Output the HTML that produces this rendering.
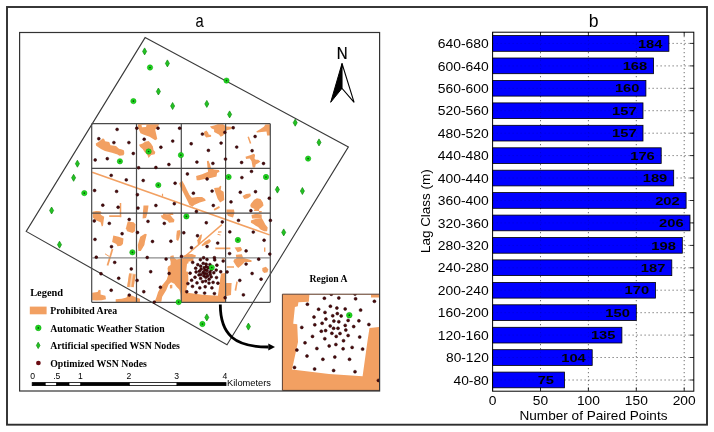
<!DOCTYPE html><html><head><meta charset="utf-8"><style>html,body{margin:0;padding:0;background:#fff;}svg{display:block;will-change:transform;}text{font-family:"Liberation Sans",sans-serif;}.sf{font-family:"Liberation Serif",serif;font-weight:bold;}</style></head><body>
<svg width="714" height="432" viewBox="0 0 714 432">
<rect width="714" height="432" fill="#fff"/>
<defs><clipPath id="mapclip"><rect x="19.6" y="32.5" width="360.4" height="358.5"/></clipPath><clipPath id="gridclip"><rect x="91.7" y="123.7" width="178.6" height="178.6"/></clipPath><clipPath id="cellclip"><rect x="181.3" y="257.8" width="44.3" height="44.5"/></clipPath><clipPath id="insclip"><rect x="282.4" y="294.2" width="97.2" height="96.2"/></clipPath></defs>
<g clip-path="url(#mapclip)">
<g clip-path="url(#gridclip)">
<polygon points="129.1,273.0 135.8,274.1 133.6,287.2 127.2,286.9" fill="#F7D2B0" />
<polygon points="95.8,143.5 99.0,141.5 101.5,139.5 103.0,138.2 104.5,139.5 105.0,141.3 109.2,142.0 110.5,145.2 116.0,146.0 119.0,148.7 122.0,149.6 124.0,150.6 124.3,153.5 123.5,155.3 119.5,155.7 117.5,154.5 112.0,152.8 105.0,151.0 101.0,149.0 98.0,147.0 96.0,145.5" fill="#F2A062" />
<polygon points="137.7,124.2 159.4,124.2 155.2,129.8 157.3,138.9 155.2,140.3 149.6,136.8 144.0,134.7 140.5,133.3 138.4,128.4" fill="#F2A062" />
<polygon points="139.0,144.7 142.6,143.5 145.0,141.7 148.6,141.1 151.0,143.5 152.9,146.5 153.5,150.1 155.3,151.9 154.7,154.3 151.1,154.9 148.6,157.9 147.4,154.9 145.0,152.5 142.6,148.9 140.2,147.1" fill="#F2A062" />
<polygon points="209.9,126.6 214.1,125.4 217.7,124.2 223.1,124.2 225.5,126.0 226.5,126.4 231.6,126.8 231.6,129.0 226.8,130.2 223.8,134.4 223.1,135.6 220.7,136.8 218.9,134.4 216.5,133.2 214.1,132.0 214.1,129.6 211.7,128.4" fill="#F2A062" />
<polygon points="203.9,132.0 206.3,130.6 208.1,132.6 208.7,134.4 211.1,135.0 211.1,136.8 206.3,137.4 204.5,135.6" fill="#F2A062" />
<polygon points="256.3,131.4 260.5,129.0 264.1,126.6 265.3,124.4 270.1,124.2 270.1,135.6 267.1,135.6 266.5,131.4 261.7,132.0 256.9,132.6" fill="#F2A062" />
<polygon points="245.5,156.7 250.9,154.9 253.9,153.7 255.1,154.9 254.5,158.5 255.7,159.7 258.1,159.7 260.5,161.5 258.1,163.3 255.7,164.5 255.1,167.5 252.7,167.5 251.5,160.9 249.7,158.5 246.1,159.1" fill="#F2A062" />
<polygon points="196.1,176.0 202.1,174.2 208.1,171.8 207.5,167.6 206.9,161.0 208.5,160.8 209.9,164.0 211.1,168.2 214.1,169.4 218.9,170.0 219.5,171.8 217.1,173.0 216.5,176.6 211.7,177.8 208.1,178.4 204.5,179.0 199.1,180.2 196.7,180.2" fill="#F2A062" />
<polygon points="179.2,183.3 182.2,180.8 184.6,185.1 187.0,189.9 189.4,194.7 191.8,197.7 197.3,197.1 202.1,197.1 205.1,198.9 205.7,200.7 199.7,202.5 194.2,204.9 192.4,206.7 189.4,204.9 187.0,200.1 184.6,195.3 182.2,190.5 180.4,186.9" fill="#F2A062" />
<polygon points="214.1,188.1 218.9,187.5 220.1,185.7 221.3,186.3 220.7,189.9 223.7,191.7 224.3,200.1 220.1,202.5 217.7,198.9 215.9,194.1 214.7,190.5" fill="#F2A062" />
<polygon points="242.5,195.9 246.1,194.1 250.3,193.5 250.9,195.9 247.9,198.3 244.3,198.9" fill="#F2A062" />
<polygon points="250.9,203.7 253.9,200.1 256.9,198.3 260.5,198.9 262.9,202.5 263.5,205.5 261.7,207.3 259.3,209.1 258.7,212.7 261.7,212.6 261.7,211.0 253.9,211.0 254.5,209.1 250.9,207.3 250.3,205.5" fill="#F2A062" />
<polygon points="143.5,205.5 148.5,205.5 147.5,213.0 146.0,218.0 142.6,218.6 143.0,212.0" fill="#F2A062" />
<polygon points="163.0,213.6 172.7,212.8 173.5,215.0 170.3,215.0 166.7,214.4 163.0,215.4" fill="#F2A062" />
<polygon points="92.8,211.4 98.8,211.4 101.2,215.0 104.2,216.8 103.6,221.0 103.0,225.8 101.8,226.4 100.6,222.2 97.6,221.0 95.2,219.8 92.8,217.4" fill="#F2A062" />
<polygon points="127.7,221.6 133.7,222.2 135.5,224.6 134.9,231.3 132.5,233.1 127.1,231.3 125.9,228.3" fill="#F2A062" />
<polygon points="113.3,235.5 118.7,236.7 123.5,238.5 122.9,243.9 121.1,245.7 117.5,246.3 116.3,243.9 112.1,242.1" fill="#F2A062" />
<polygon points="160.7,215.6 166.7,214.4 170.3,215.0 172.7,218.0 174.5,219.8 173.9,222.2 169.1,222.8 167.3,220.4 163.7,219.2 161.9,218.0" fill="#F2A062" />
<polygon points="140.2,236.7 145.0,233.7 146.8,234.3 145.0,241.5 144.4,245.1 140.8,251.1 138.4,251.1 137.8,245.1" fill="#F2A062" />
<polygon points="176.9,230.7 179.9,230.1 180.5,233.1 179.3,237.9 178.1,240.9 176.3,239.7 176.3,235.5" fill="#F2A062" />
<polygon points="197.3,240.3 200.3,234.9 202.1,234.3 201.5,237.9 199.7,243.9 197.9,244.5" fill="#F2A062" />
<polygon points="201.5,245.1 205.1,241.5 209.3,239.1 211.1,240.9 209.3,243.3 205.1,245.1 202.1,246.3" fill="#F2A062" />
<polygon points="182.8,256.0 187.0,254.2 192.0,254.0 196.0,255.5 195.0,258.0 190.0,257.8 185.0,258.5" fill="#F2A062" />
<polygon points="226.5,209.5 234.0,209.5 234.5,213.0 233.0,217.5 228.0,216.0 226.5,213.0" fill="#F2A062" />
<polygon points="250.9,220.4 254.5,219.2 258.1,218.6 261.7,218.0 263.5,221.0 265.3,224.6 267.7,227.6 267.1,231.3 264.1,231.3 260.5,229.5 258.1,227.1 255.7,225.8 253.3,224.0 250.9,222.8" fill="#F2A062" />
<polygon points="251.5,215.0 256.0,213.8 261.7,214.5 261.7,218.0 256.0,218.6 252.0,218.6" fill="#F2A062" />
<polygon points="234.6,247.5 240.7,246.9 241.9,249.3 241.3,251.1 237.6,252.3 236.4,250.5" fill="#F2A062" />
<polygon points="235.8,254.8 241.9,254.2 243.1,257.8 251.5,260.2 251.5,262.0 244.9,262.0 241.9,265.0 238.2,268.0 236.4,266.2 233.4,261.4 234.0,259.6 236.4,258.4" fill="#F2A062" />
<polygon points="262.3,268.0 265.9,266.8 268.3,269.2 267.5,272.3 264.1,272.9 262.3,271.1" fill="#F2A062" />
<polygon points="236.4,281.3 237.8,281.9 236.2,290.9 234.6,290.3" fill="#F2A062" />
<polygon points="225.6,283.1 231.6,283.1 231.0,295.1 225.6,296.3" fill="#F2A062" />
<polygon points="92.2,292.7 97.6,292.1 98.8,289.7 100.6,290.3 100.6,294.5 105.4,295.7 106.0,299.3 101.8,300.2 96.4,300.5 92.2,300.2" fill="#F2A062" />
<polygon points="115.7,299.3 121.7,298.7 126.5,297.5 127.7,295.1 132.5,295.7 136.1,297.5 140.0,298.7 140.0,302.3 115.7,302.3" fill="#F2A062" />
<polygon points="154.6,301.8 156.5,297.0 158.1,292.0 161.3,286.2 164.0,283.0 166.6,279.7 168.2,274.9 167.8,270.0 167.5,268.7 168.1,266.5 170.5,265.0 170.7,262.0 169.9,259.0 170.5,256.0 173.5,255.2 174.1,257.8 176.5,259.6 181.6,258.4 181.6,301.8 180.8,301.8 180.6,295.0 180.2,292.5 179.2,289.4 176.7,287.0 174.3,283.8 171.1,282.2 168.6,284.6 166.2,290.3 162.2,296.7 161.3,301.8" fill="#F2A062" />
<polygon points="169.9,285.0 172.3,284.8 172.3,288.2 169.9,288.4" fill="#F2A062" />
<polygon points="92.8,212.5 96.0,211.0 100.5,211.2 101.8,213.2 92.8,213.2" fill="#F2A062" />
<polygon points="141.5,125.0 146.5,124.8 146.0,127.1 142.0,127.3" fill="#fff" />
<line x1="92.2" y1="172.2" x2="269.5" y2="234.9" stroke="#F2A062" stroke-width="1.5"/>
<line x1="221.9" y1="224.6" x2="184.5" y2="256.8" stroke="#F2A062" stroke-width="1.4"/>
<line x1="248.2" y1="136.8" x2="250.6" y2="143.5" stroke="#F2A062" stroke-width="1.5"/>
<line x1="120.5" y1="203.1" x2="120.5" y2="217.3" stroke="#F2A062" stroke-width="1.5"/>
<line x1="109.2" y1="216.2" x2="121.2" y2="216.2" stroke="#F2A062" stroke-width="1.7"/>
<line x1="112.5" y1="249.0" x2="107.5" y2="265.5" stroke="#F2A062" stroke-width="1.8"/>
<line x1="105.0" y1="253.8" x2="109.0" y2="256.3" stroke="#F2A062" stroke-width="1.0"/>
<line x1="130.3" y1="273.6" x2="128.3" y2="287.0" stroke="#F2A062" stroke-width="2.4"/>
<line x1="134.4" y1="274.4" x2="132.5" y2="287.0" stroke="#F2A062" stroke-width="2.4"/>
<line x1="214.1" y1="209.9" x2="219.5" y2="206.9" stroke="#F2A062" stroke-width="1.8"/>
<line x1="162.5" y1="193.8" x2="162.5" y2="196.5" stroke="#F2A062" stroke-width="1.2"/>
<line x1="215.3" y1="248.4" x2="230.4" y2="248.4" stroke="#F2A062" stroke-width="1.8"/>
<line x1="264.7" y1="247.5" x2="264.7" y2="251.7" stroke="#F2A062" stroke-width="1.4"/>
<line x1="226.8" y1="267.1" x2="234.0" y2="267.1" stroke="#F2A062" stroke-width="1.5"/>
<line x1="218.0" y1="232.2" x2="221.5" y2="231.9" stroke="#F2A062" stroke-width="1.2"/>
<line x1="217.5" y1="234.3" x2="220.5" y2="235.0" stroke="#F2A062" stroke-width="1.0"/>
<g clip-path="url(#cellclip)">
<rect x="181.3" y="257.8" width="44.3" height="44.5" fill="#F2A062"/>
<polygon points="193.6,257.8 221.7,257.8 221.7,259.4 225.3,259.4 225.3,273.0 221.0,273.4 220.1,279.4 217.9,295.8 202.5,294.7 185.7,292.6 188.4,279.9 188.0,271.7 186.2,271.4 187.0,263.7 188.3,263.4 188.6,261.5 193.3,261.3" fill="#fff" />
</g>
</g>
<polygon points="145.1,37.6 348.4,146.9 227,344.7 26.2,231.4" fill="none" stroke="#3a3a3a" stroke-width="1.1"/>
<line x1="91.7" y1="123.7" x2="91.7" y2="302.3" stroke="#4a4a4a" stroke-width="1.2"/>
<line x1="136.5" y1="123.7" x2="136.5" y2="302.3" stroke="#4a4a4a" stroke-width="1.2"/>
<line x1="181.3" y1="123.7" x2="181.3" y2="302.3" stroke="#4a4a4a" stroke-width="1.2"/>
<line x1="225.6" y1="123.7" x2="225.6" y2="302.3" stroke="#4a4a4a" stroke-width="1.2"/>
<line x1="270.3" y1="123.7" x2="270.3" y2="302.3" stroke="#4a4a4a" stroke-width="1.2"/>
<line x1="91.7" y1="123.7" x2="270.3" y2="123.7" stroke="#4a4a4a" stroke-width="1.2"/>
<line x1="91.7" y1="168.3" x2="270.3" y2="168.3" stroke="#4a4a4a" stroke-width="1.2"/>
<line x1="91.7" y1="213.2" x2="270.3" y2="213.2" stroke="#4a4a4a" stroke-width="1.2"/>
<line x1="91.7" y1="257.8" x2="270.3" y2="257.8" stroke="#8c8c8c" stroke-width="1.2"/>
<line x1="91.7" y1="302.3" x2="270.3" y2="302.3" stroke="#4a4a4a" stroke-width="1.2"/>
<circle cx="117.1" cy="129.4" r="1.45" fill="#4A0A0C" stroke="#240406" stroke-width="0.5"/>
<circle cx="98.8" cy="138.7" r="1.45" fill="#4A0A0C" stroke="#240406" stroke-width="0.5"/>
<circle cx="113.9" cy="142.6" r="1.45" fill="#4A0A0C" stroke="#240406" stroke-width="0.5"/>
<circle cx="128.9" cy="142.6" r="1.45" fill="#4A0A0C" stroke="#240406" stroke-width="0.5"/>
<circle cx="133.3" cy="153.5" r="1.45" fill="#4A0A0C" stroke="#240406" stroke-width="0.5"/>
<circle cx="95.2" cy="160.0" r="1.45" fill="#4A0A0C" stroke="#240406" stroke-width="0.5"/>
<circle cx="107.3" cy="158.7" r="1.45" fill="#4A0A0C" stroke="#240406" stroke-width="0.5"/>
<circle cx="136.8" cy="128.2" r="1.45" fill="#4A0A0C" stroke="#240406" stroke-width="0.5"/>
<circle cx="138.6" cy="167.8" r="1.45" fill="#4A0A0C" stroke="#240406" stroke-width="0.5"/>
<circle cx="158.0" cy="128.2" r="1.45" fill="#4A0A0C" stroke="#240406" stroke-width="0.5"/>
<circle cx="179.6" cy="128.2" r="1.45" fill="#4A0A0C" stroke="#240406" stroke-width="0.5"/>
<circle cx="144.2" cy="139.3" r="1.45" fill="#4A0A0C" stroke="#240406" stroke-width="0.5"/>
<circle cx="172.7" cy="141.1" r="1.45" fill="#4A0A0C" stroke="#240406" stroke-width="0.5"/>
<circle cx="160.9" cy="147.3" r="1.45" fill="#4A0A0C" stroke="#240406" stroke-width="0.5"/>
<circle cx="168.9" cy="164.5" r="1.45" fill="#4A0A0C" stroke="#240406" stroke-width="0.5"/>
<circle cx="155.9" cy="167.5" r="1.45" fill="#4A0A0C" stroke="#240406" stroke-width="0.5"/>
<circle cx="202.4" cy="134.1" r="1.45" fill="#4A0A0C" stroke="#240406" stroke-width="0.5"/>
<circle cx="224.9" cy="132.4" r="1.45" fill="#4A0A0C" stroke="#240406" stroke-width="0.5"/>
<circle cx="191.2" cy="143.8" r="1.45" fill="#4A0A0C" stroke="#240406" stroke-width="0.5"/>
<circle cx="221.1" cy="143.1" r="1.45" fill="#4A0A0C" stroke="#240406" stroke-width="0.5"/>
<circle cx="208.4" cy="150.4" r="1.45" fill="#4A0A0C" stroke="#240406" stroke-width="0.5"/>
<circle cx="196.9" cy="162.1" r="1.45" fill="#4A0A0C" stroke="#240406" stroke-width="0.5"/>
<circle cx="212.9" cy="163.4" r="1.45" fill="#4A0A0C" stroke="#240406" stroke-width="0.5"/>
<circle cx="225.5" cy="159.1" r="1.45" fill="#4A0A0C" stroke="#240406" stroke-width="0.5"/>
<circle cx="233.2" cy="127.8" r="1.45" fill="#4A0A0C" stroke="#240406" stroke-width="0.5"/>
<circle cx="255.1" cy="136.5" r="1.45" fill="#4A0A0C" stroke="#240406" stroke-width="0.5"/>
<circle cx="236.7" cy="147.1" r="1.45" fill="#4A0A0C" stroke="#240406" stroke-width="0.5"/>
<circle cx="252.1" cy="150.7" r="1.45" fill="#4A0A0C" stroke="#240406" stroke-width="0.5"/>
<circle cx="241.6" cy="162.5" r="1.45" fill="#4A0A0C" stroke="#240406" stroke-width="0.5"/>
<circle cx="263.5" cy="163.5" r="1.45" fill="#4A0A0C" stroke="#240406" stroke-width="0.5"/>
<circle cx="251.5" cy="171.4" r="1.45" fill="#4A0A0C" stroke="#240406" stroke-width="0.5"/>
<circle cx="111.2" cy="175.4" r="1.45" fill="#4A0A0C" stroke="#240406" stroke-width="0.5"/>
<circle cx="126.3" cy="179.9" r="1.45" fill="#4A0A0C" stroke="#240406" stroke-width="0.5"/>
<circle cx="94.6" cy="190.5" r="1.45" fill="#4A0A0C" stroke="#240406" stroke-width="0.5"/>
<circle cx="116.6" cy="191.4" r="1.45" fill="#4A0A0C" stroke="#240406" stroke-width="0.5"/>
<circle cx="137.4" cy="194.7" r="1.45" fill="#4A0A0C" stroke="#240406" stroke-width="0.5"/>
<circle cx="102.8" cy="205.2" r="1.45" fill="#4A0A0C" stroke="#240406" stroke-width="0.5"/>
<circle cx="118.1" cy="207.3" r="1.45" fill="#4A0A0C" stroke="#240406" stroke-width="0.5"/>
<circle cx="138.0" cy="208.1" r="1.45" fill="#4A0A0C" stroke="#240406" stroke-width="0.5"/>
<circle cx="143.2" cy="180.5" r="1.45" fill="#4A0A0C" stroke="#240406" stroke-width="0.5"/>
<circle cx="175.1" cy="183.3" r="1.45" fill="#4A0A0C" stroke="#240406" stroke-width="0.5"/>
<circle cx="155.9" cy="205.5" r="1.45" fill="#4A0A0C" stroke="#240406" stroke-width="0.5"/>
<circle cx="174.3" cy="203.7" r="1.45" fill="#4A0A0C" stroke="#240406" stroke-width="0.5"/>
<circle cx="187.4" cy="174.0" r="1.45" fill="#4A0A0C" stroke="#240406" stroke-width="0.5"/>
<circle cx="207.1" cy="179.0" r="1.45" fill="#4A0A0C" stroke="#240406" stroke-width="0.5"/>
<circle cx="193.4" cy="193.2" r="1.45" fill="#4A0A0C" stroke="#240406" stroke-width="0.5"/>
<circle cx="212.1" cy="191.1" r="1.45" fill="#4A0A0C" stroke="#240406" stroke-width="0.5"/>
<circle cx="213.3" cy="205.5" r="1.45" fill="#4A0A0C" stroke="#240406" stroke-width="0.5"/>
<circle cx="196.4" cy="211.5" r="1.45" fill="#4A0A0C" stroke="#240406" stroke-width="0.5"/>
<circle cx="241.9" cy="177.6" r="1.45" fill="#4A0A0C" stroke="#240406" stroke-width="0.5"/>
<circle cx="240.3" cy="192.3" r="1.45" fill="#4A0A0C" stroke="#240406" stroke-width="0.5"/>
<circle cx="255.5" cy="191.7" r="1.45" fill="#4A0A0C" stroke="#240406" stroke-width="0.5"/>
<circle cx="269.3" cy="198.3" r="1.45" fill="#4A0A0C" stroke="#240406" stroke-width="0.5"/>
<circle cx="231.0" cy="201.9" r="1.45" fill="#4A0A0C" stroke="#240406" stroke-width="0.5"/>
<circle cx="250.9" cy="210.7" r="1.45" fill="#4A0A0C" stroke="#240406" stroke-width="0.5"/>
<circle cx="94.3" cy="221.0" r="1.45" fill="#4A0A0C" stroke="#240406" stroke-width="0.5"/>
<circle cx="109.3" cy="223.4" r="1.45" fill="#4A0A0C" stroke="#240406" stroke-width="0.5"/>
<circle cx="129.2" cy="219.5" r="1.45" fill="#4A0A0C" stroke="#240406" stroke-width="0.5"/>
<circle cx="122.1" cy="233.7" r="1.45" fill="#4A0A0C" stroke="#240406" stroke-width="0.5"/>
<circle cx="95.0" cy="239.4" r="1.45" fill="#4A0A0C" stroke="#240406" stroke-width="0.5"/>
<circle cx="111.5" cy="246.7" r="1.45" fill="#4A0A0C" stroke="#240406" stroke-width="0.5"/>
<circle cx="96.3" cy="257.2" r="1.45" fill="#4A0A0C" stroke="#240406" stroke-width="0.5"/>
<circle cx="137.5" cy="232.5" r="1.45" fill="#4A0A0C" stroke="#240406" stroke-width="0.5"/>
<circle cx="148.0" cy="221.4" r="1.45" fill="#4A0A0C" stroke="#240406" stroke-width="0.5"/>
<circle cx="164.3" cy="223.4" r="1.45" fill="#4A0A0C" stroke="#240406" stroke-width="0.5"/>
<circle cx="152.5" cy="241.5" r="1.45" fill="#4A0A0C" stroke="#240406" stroke-width="0.5"/>
<circle cx="170.9" cy="241.3" r="1.45" fill="#4A0A0C" stroke="#240406" stroke-width="0.5"/>
<circle cx="147.2" cy="257.5" r="1.45" fill="#4A0A0C" stroke="#240406" stroke-width="0.5"/>
<circle cx="166.1" cy="259.1" r="1.45" fill="#4A0A0C" stroke="#240406" stroke-width="0.5"/>
<circle cx="181.5" cy="256.4" r="1.45" fill="#4A0A0C" stroke="#240406" stroke-width="0.5"/>
<circle cx="206.3" cy="222.8" r="1.45" fill="#4A0A0C" stroke="#240406" stroke-width="0.5"/>
<circle cx="222.3" cy="222.0" r="1.45" fill="#4A0A0C" stroke="#240406" stroke-width="0.5"/>
<circle cx="183.8" cy="232.8" r="1.45" fill="#4A0A0C" stroke="#240406" stroke-width="0.5"/>
<circle cx="197.5" cy="235.8" r="1.45" fill="#4A0A0C" stroke="#240406" stroke-width="0.5"/>
<circle cx="217.7" cy="243.1" r="1.45" fill="#4A0A0C" stroke="#240406" stroke-width="0.5"/>
<circle cx="207.1" cy="246.5" r="1.45" fill="#4A0A0C" stroke="#240406" stroke-width="0.5"/>
<circle cx="191.5" cy="247.7" r="1.45" fill="#4A0A0C" stroke="#240406" stroke-width="0.5"/>
<circle cx="238.5" cy="220.4" r="1.45" fill="#4A0A0C" stroke="#240406" stroke-width="0.5"/>
<circle cx="270.4" cy="220.4" r="1.45" fill="#4A0A0C" stroke="#240406" stroke-width="0.5"/>
<circle cx="229.8" cy="231.9" r="1.45" fill="#4A0A0C" stroke="#240406" stroke-width="0.5"/>
<circle cx="253.3" cy="232.1" r="1.45" fill="#4A0A0C" stroke="#240406" stroke-width="0.5"/>
<circle cx="264.1" cy="240.3" r="1.45" fill="#4A0A0C" stroke="#240406" stroke-width="0.5"/>
<circle cx="246.1" cy="250.9" r="1.45" fill="#4A0A0C" stroke="#240406" stroke-width="0.5"/>
<circle cx="229.6" cy="253.6" r="1.45" fill="#4A0A0C" stroke="#240406" stroke-width="0.5"/>
<circle cx="269.8" cy="254.1" r="1.45" fill="#4A0A0C" stroke="#240406" stroke-width="0.5"/>
<circle cx="258.7" cy="259.2" r="1.45" fill="#4A0A0C" stroke="#240406" stroke-width="0.5"/>
<circle cx="114.7" cy="262.4" r="1.45" fill="#4A0A0C" stroke="#240406" stroke-width="0.5"/>
<circle cx="131.3" cy="269.0" r="1.45" fill="#4A0A0C" stroke="#240406" stroke-width="0.5"/>
<circle cx="101.0" cy="273.7" r="1.45" fill="#4A0A0C" stroke="#240406" stroke-width="0.5"/>
<circle cx="118.7" cy="278.3" r="1.45" fill="#4A0A0C" stroke="#240406" stroke-width="0.5"/>
<circle cx="137.1" cy="280.4" r="1.45" fill="#4A0A0C" stroke="#240406" stroke-width="0.5"/>
<circle cx="111.2" cy="290.3" r="1.45" fill="#4A0A0C" stroke="#240406" stroke-width="0.5"/>
<circle cx="129.3" cy="295.1" r="1.45" fill="#4A0A0C" stroke="#240406" stroke-width="0.5"/>
<circle cx="150.7" cy="271.7" r="1.45" fill="#4A0A0C" stroke="#240406" stroke-width="0.5"/>
<circle cx="169.1" cy="273.5" r="1.45" fill="#4A0A0C" stroke="#240406" stroke-width="0.5"/>
<circle cx="160.4" cy="287.3" r="1.45" fill="#4A0A0C" stroke="#240406" stroke-width="0.5"/>
<circle cx="143.8" cy="291.7" r="1.45" fill="#4A0A0C" stroke="#240406" stroke-width="0.5"/>
<circle cx="154.3" cy="302.1" r="1.45" fill="#4A0A0C" stroke="#240406" stroke-width="0.5"/>
<circle cx="246.1" cy="264.1" r="1.45" fill="#4A0A0C" stroke="#240406" stroke-width="0.5"/>
<circle cx="227.1" cy="272.0" r="1.45" fill="#4A0A0C" stroke="#240406" stroke-width="0.5"/>
<circle cx="252.1" cy="273.5" r="1.45" fill="#4A0A0C" stroke="#240406" stroke-width="0.5"/>
<circle cx="261.1" cy="279.2" r="1.45" fill="#4A0A0C" stroke="#240406" stroke-width="0.5"/>
<circle cx="239.8" cy="280.4" r="1.45" fill="#4A0A0C" stroke="#240406" stroke-width="0.5"/>
<circle cx="243.4" cy="294.9" r="1.45" fill="#4A0A0C" stroke="#240406" stroke-width="0.5"/>
<circle cx="200.4" cy="259.7" r="1.45" fill="#4A0A0C" stroke="#240406" stroke-width="0.5"/>
<circle cx="192.7" cy="262.4" r="1.45" fill="#4A0A0C" stroke="#240406" stroke-width="0.5"/>
<circle cx="203.2" cy="263.4" r="1.45" fill="#4A0A0C" stroke="#240406" stroke-width="0.5"/>
<circle cx="197.8" cy="264.7" r="1.45" fill="#4A0A0C" stroke="#240406" stroke-width="0.5"/>
<circle cx="200.7" cy="266.2" r="1.45" fill="#4A0A0C" stroke="#240406" stroke-width="0.5"/>
<circle cx="195.7" cy="268.3" r="1.45" fill="#4A0A0C" stroke="#240406" stroke-width="0.5"/>
<circle cx="201.1" cy="269.3" r="1.45" fill="#4A0A0C" stroke="#240406" stroke-width="0.5"/>
<circle cx="199.4" cy="271.3" r="1.45" fill="#4A0A0C" stroke="#240406" stroke-width="0.5"/>
<circle cx="196.1" cy="272.0" r="1.45" fill="#4A0A0C" stroke="#240406" stroke-width="0.5"/>
<circle cx="190.1" cy="273.2" r="1.45" fill="#4A0A0C" stroke="#240406" stroke-width="0.5"/>
<circle cx="203.1" cy="272.5" r="1.45" fill="#4A0A0C" stroke="#240406" stroke-width="0.5"/>
<circle cx="199.0" cy="274.9" r="1.45" fill="#4A0A0C" stroke="#240406" stroke-width="0.5"/>
<circle cx="201.0" cy="274.6" r="1.45" fill="#4A0A0C" stroke="#240406" stroke-width="0.5"/>
<circle cx="195.0" cy="277.3" r="1.45" fill="#4A0A0C" stroke="#240406" stroke-width="0.5"/>
<circle cx="200.6" cy="278.4" r="1.45" fill="#4A0A0C" stroke="#240406" stroke-width="0.5"/>
<circle cx="191.6" cy="280.3" r="1.45" fill="#4A0A0C" stroke="#240406" stroke-width="0.5"/>
<circle cx="203.6" cy="257.8" r="1.45" fill="#4A0A0C" stroke="#240406" stroke-width="0.5"/>
<circle cx="214.4" cy="257.7" r="1.45" fill="#4A0A0C" stroke="#240406" stroke-width="0.5"/>
<circle cx="207.0" cy="259.5" r="1.45" fill="#4A0A0C" stroke="#240406" stroke-width="0.5"/>
<circle cx="214.7" cy="259.9" r="1.45" fill="#4A0A0C" stroke="#240406" stroke-width="0.5"/>
<circle cx="223.2" cy="261.1" r="1.45" fill="#4A0A0C" stroke="#240406" stroke-width="0.5"/>
<circle cx="206.1" cy="264.2" r="1.45" fill="#4A0A0C" stroke="#240406" stroke-width="0.5"/>
<circle cx="209.9" cy="264.6" r="1.45" fill="#4A0A0C" stroke="#240406" stroke-width="0.5"/>
<circle cx="216.9" cy="265.2" r="1.45" fill="#4A0A0C" stroke="#240406" stroke-width="0.5"/>
<circle cx="206.3" cy="266.8" r="1.45" fill="#4A0A0C" stroke="#240406" stroke-width="0.5"/>
<circle cx="204.2" cy="267.8" r="1.45" fill="#4A0A0C" stroke="#240406" stroke-width="0.5"/>
<circle cx="208.1" cy="267.8" r="1.45" fill="#4A0A0C" stroke="#240406" stroke-width="0.5"/>
<circle cx="204.8" cy="270.2" r="1.45" fill="#4A0A0C" stroke="#240406" stroke-width="0.5"/>
<circle cx="207.0" cy="270.5" r="1.45" fill="#4A0A0C" stroke="#240406" stroke-width="0.5"/>
<circle cx="211.2" cy="269.9" r="1.45" fill="#4A0A0C" stroke="#240406" stroke-width="0.5"/>
<circle cx="216.2" cy="270.1" r="1.45" fill="#4A0A0C" stroke="#240406" stroke-width="0.5"/>
<circle cx="209.9" cy="272.2" r="1.45" fill="#4A0A0C" stroke="#240406" stroke-width="0.5"/>
<circle cx="213.8" cy="272.8" r="1.45" fill="#4A0A0C" stroke="#240406" stroke-width="0.5"/>
<circle cx="220.7" cy="271.8" r="1.45" fill="#4A0A0C" stroke="#240406" stroke-width="0.5"/>
<circle cx="204.6" cy="273.6" r="1.45" fill="#4A0A0C" stroke="#240406" stroke-width="0.5"/>
<circle cx="206.6" cy="273.6" r="1.45" fill="#4A0A0C" stroke="#240406" stroke-width="0.5"/>
<circle cx="210.2" cy="274.4" r="1.45" fill="#4A0A0C" stroke="#240406" stroke-width="0.5"/>
<circle cx="203.9" cy="275.9" r="1.45" fill="#4A0A0C" stroke="#240406" stroke-width="0.5"/>
<circle cx="207.6" cy="276.0" r="1.45" fill="#4A0A0C" stroke="#240406" stroke-width="0.5"/>
<circle cx="205.8" cy="277.3" r="1.45" fill="#4A0A0C" stroke="#240406" stroke-width="0.5"/>
<circle cx="211.2" cy="276.9" r="1.45" fill="#4A0A0C" stroke="#240406" stroke-width="0.5"/>
<circle cx="216.5" cy="277.6" r="1.45" fill="#4A0A0C" stroke="#240406" stroke-width="0.5"/>
<circle cx="209.1" cy="279.3" r="1.45" fill="#4A0A0C" stroke="#240406" stroke-width="0.5"/>
<circle cx="202.6" cy="281.7" r="1.45" fill="#4A0A0C" stroke="#240406" stroke-width="0.5"/>
<circle cx="187.9" cy="283.6" r="1.45" fill="#4A0A0C" stroke="#240406" stroke-width="0.5"/>
<circle cx="197.0" cy="282.9" r="1.45" fill="#4A0A0C" stroke="#240406" stroke-width="0.5"/>
<circle cx="192.5" cy="286.4" r="1.45" fill="#4A0A0C" stroke="#240406" stroke-width="0.5"/>
<circle cx="199.8" cy="287.9" r="1.45" fill="#4A0A0C" stroke="#240406" stroke-width="0.5"/>
<circle cx="186.8" cy="291.7" r="1.45" fill="#4A0A0C" stroke="#240406" stroke-width="0.5"/>
<circle cx="196.0" cy="292.4" r="1.45" fill="#4A0A0C" stroke="#240406" stroke-width="0.5"/>
<circle cx="205.7" cy="281.1" r="1.45" fill="#4A0A0C" stroke="#240406" stroke-width="0.5"/>
<circle cx="209.0" cy="283.1" r="1.45" fill="#4A0A0C" stroke="#240406" stroke-width="0.5"/>
<circle cx="213.1" cy="282.4" r="1.45" fill="#4A0A0C" stroke="#240406" stroke-width="0.5"/>
<circle cx="217.9" cy="283.2" r="1.45" fill="#4A0A0C" stroke="#240406" stroke-width="0.5"/>
<circle cx="205.2" cy="286.8" r="1.45" fill="#4A0A0C" stroke="#240406" stroke-width="0.5"/>
<circle cx="211.9" cy="287.9" r="1.45" fill="#4A0A0C" stroke="#240406" stroke-width="0.5"/>
<circle cx="204.6" cy="293.1" r="1.45" fill="#4A0A0C" stroke="#240406" stroke-width="0.5"/>
<circle cx="214.4" cy="293.6" r="1.45" fill="#4A0A0C" stroke="#240406" stroke-width="0.5"/>
<circle cx="225.1" cy="297.7" r="1.45" fill="#4A0A0C" stroke="#240406" stroke-width="0.5"/>
<circle cx="211.8" cy="267.5" r="2.60" fill="#1ED41E" stroke="#13b013" stroke-width="0.6"/><circle cx="211.8" cy="267.5" r="0.85" fill="#0a4d0a"/>
<circle cx="150.0" cy="67.5" r="2.65" fill="#1ED41E" stroke="#13b013" stroke-width="0.6"/><circle cx="150.0" cy="67.5" r="0.85" fill="#0a4d0a"/>
<circle cx="226.5" cy="80.6" r="2.65" fill="#1ED41E" stroke="#13b013" stroke-width="0.6"/><circle cx="226.5" cy="80.6" r="0.85" fill="#0a4d0a"/>
<circle cx="133.4" cy="101.1" r="2.65" fill="#1ED41E" stroke="#13b013" stroke-width="0.6"/><circle cx="133.4" cy="101.1" r="0.85" fill="#0a4d0a"/>
<circle cx="308.1" cy="158.6" r="2.65" fill="#1ED41E" stroke="#13b013" stroke-width="0.6"/><circle cx="308.1" cy="158.6" r="0.85" fill="#0a4d0a"/>
<circle cx="266.0" cy="177.0" r="2.65" fill="#1ED41E" stroke="#13b013" stroke-width="0.6"/><circle cx="266.0" cy="177.0" r="0.85" fill="#0a4d0a"/>
<circle cx="84.3" cy="193.1" r="2.65" fill="#1ED41E" stroke="#13b013" stroke-width="0.6"/><circle cx="84.3" cy="193.1" r="0.85" fill="#0a4d0a"/>
<circle cx="202.4" cy="324.0" r="2.65" fill="#1ED41E" stroke="#13b013" stroke-width="0.6"/><circle cx="202.4" cy="324.0" r="0.85" fill="#0a4d0a"/>
<circle cx="178.6" cy="302.1" r="2.65" fill="#1ED41E" stroke="#13b013" stroke-width="0.6"/><circle cx="178.6" cy="302.1" r="0.85" fill="#0a4d0a"/>
<circle cx="119.9" cy="161.3" r="2.65" fill="#1ED41E" stroke="#13b013" stroke-width="0.6"/><circle cx="119.9" cy="161.3" r="0.85" fill="#0a4d0a"/>
<circle cx="148.6" cy="151.5" r="2.65" fill="#1ED41E" stroke="#13b013" stroke-width="0.6"/><circle cx="148.6" cy="151.5" r="0.85" fill="#0a4d0a"/>
<circle cx="180.9" cy="155.1" r="2.65" fill="#1ED41E" stroke="#13b013" stroke-width="0.6"/><circle cx="180.9" cy="155.1" r="0.85" fill="#0a4d0a"/>
<circle cx="158.3" cy="185.1" r="2.65" fill="#1ED41E" stroke="#13b013" stroke-width="0.6"/><circle cx="158.3" cy="185.1" r="0.85" fill="#0a4d0a"/>
<circle cx="228.6" cy="177.0" r="2.65" fill="#1ED41E" stroke="#13b013" stroke-width="0.6"/><circle cx="228.6" cy="177.0" r="0.85" fill="#0a4d0a"/>
<circle cx="186.4" cy="216.4" r="2.65" fill="#1ED41E" stroke="#13b013" stroke-width="0.6"/><circle cx="186.4" cy="216.4" r="0.85" fill="#0a4d0a"/>
<circle cx="237.9" cy="240.0" r="2.65" fill="#1ED41E" stroke="#13b013" stroke-width="0.6"/><circle cx="237.9" cy="240.0" r="0.85" fill="#0a4d0a"/>
<circle cx="132.4" cy="252.3" r="2.65" fill="#1ED41E" stroke="#13b013" stroke-width="0.6"/><circle cx="132.4" cy="252.3" r="0.85" fill="#0a4d0a"/>
<polygon points="144.6,47.9 146.6,51.4 144.6,54.9 142.6,51.4" fill="#22c422" stroke="#0E8A0E" stroke-width="0.7"/>
<polygon points="167.4,59.9 169.4,63.4 167.4,66.9 165.4,63.4" fill="#22c422" stroke="#0E8A0E" stroke-width="0.7"/>
<polygon points="158.4,88.0 160.4,91.5 158.4,95.0 156.4,91.5" fill="#22c422" stroke="#0E8A0E" stroke-width="0.7"/>
<polygon points="172.6,102.5 174.6,106.0 172.6,109.5 170.6,106.0" fill="#22c422" stroke="#0E8A0E" stroke-width="0.7"/>
<polygon points="206.8,100.4 208.8,103.9 206.8,107.4 204.8,103.9" fill="#22c422" stroke="#0E8A0E" stroke-width="0.7"/>
<polygon points="229.6,110.9 231.6,114.4 229.6,117.9 227.6,114.4" fill="#22c422" stroke="#0E8A0E" stroke-width="0.7"/>
<polygon points="295.2,119.2 297.2,122.7 295.2,126.2 293.2,122.7" fill="#22c422" stroke="#0E8A0E" stroke-width="0.7"/>
<polygon points="319.0,138.9 321.0,142.4 319.0,145.9 317.0,142.4" fill="#22c422" stroke="#0E8A0E" stroke-width="0.7"/>
<polygon points="277.4,186.1 279.4,189.6 277.4,193.1 275.4,189.6" fill="#22c422" stroke="#0E8A0E" stroke-width="0.7"/>
<polygon points="302.4,187.5 304.4,191.0 302.4,194.5 300.4,191.0" fill="#22c422" stroke="#0E8A0E" stroke-width="0.7"/>
<polygon points="283.7,228.9 285.7,232.4 283.7,235.9 281.7,232.4" fill="#22c422" stroke="#0E8A0E" stroke-width="0.7"/>
<polygon points="77.4,160.2 79.4,163.7 77.4,167.2 75.4,163.7" fill="#22c422" stroke="#0E8A0E" stroke-width="0.7"/>
<polygon points="73.6,174.3 75.6,177.8 73.6,181.3 71.6,177.8" fill="#22c422" stroke="#0E8A0E" stroke-width="0.7"/>
<polygon points="51.6,207.0 53.6,210.5 51.6,214.0 49.6,210.5" fill="#22c422" stroke="#0E8A0E" stroke-width="0.7"/>
<polygon points="59.5,241.2 61.5,244.7 59.5,248.2 57.5,244.7" fill="#22c422" stroke="#0E8A0E" stroke-width="0.7"/>
<polygon points="206.8,313.9 208.8,317.4 206.8,320.9 204.8,317.4" fill="#22c422" stroke="#0E8A0E" stroke-width="0.7"/>
<polygon points="248.4,323.1 250.4,326.6 248.4,330.1 246.4,326.6" fill="#22c422" stroke="#0E8A0E" stroke-width="0.7"/>
</g>
<g clip-path="url(#insclip)">
<rect x="282.4" y="294.2" width="97.2" height="96.2" fill="#F2A062"/>
<polygon points="309.4,294.2 371.0,294.2 371.0,297.6 379.0,297.6 379.0,327.0 369.5,328.0 367.5,341.0 362.6,376.3 329.0,374.0 292.0,369.4 298.0,342.0 297.2,324.3 293.2,323.7 294.9,306.9 297.8,306.3 298.4,302.3 308.8,301.7" fill="#fff" />
<circle cx="324.4" cy="298.2" r="1.50" fill="#4A0A0C" stroke="#240406" stroke-width="0.5"/>
<circle cx="307.4" cy="304.2" r="1.50" fill="#4A0A0C" stroke="#240406" stroke-width="0.5"/>
<circle cx="330.4" cy="306.2" r="1.50" fill="#4A0A0C" stroke="#240406" stroke-width="0.5"/>
<circle cx="318.6" cy="309.2" r="1.50" fill="#4A0A0C" stroke="#240406" stroke-width="0.5"/>
<circle cx="325.0" cy="312.4" r="1.50" fill="#4A0A0C" stroke="#240406" stroke-width="0.5"/>
<circle cx="314.0" cy="317.0" r="1.50" fill="#4A0A0C" stroke="#240406" stroke-width="0.5"/>
<circle cx="325.9" cy="319.0" r="1.50" fill="#4A0A0C" stroke="#240406" stroke-width="0.5"/>
<circle cx="322.1" cy="323.3" r="1.50" fill="#4A0A0C" stroke="#240406" stroke-width="0.5"/>
<circle cx="314.8" cy="324.8" r="1.50" fill="#4A0A0C" stroke="#240406" stroke-width="0.5"/>
<circle cx="301.8" cy="327.4" r="1.50" fill="#4A0A0C" stroke="#240406" stroke-width="0.5"/>
<circle cx="330.2" cy="325.9" r="1.50" fill="#4A0A0C" stroke="#240406" stroke-width="0.5"/>
<circle cx="321.3" cy="331.2" r="1.50" fill="#4A0A0C" stroke="#240406" stroke-width="0.5"/>
<circle cx="325.6" cy="330.6" r="1.50" fill="#4A0A0C" stroke="#240406" stroke-width="0.5"/>
<circle cx="312.5" cy="336.4" r="1.50" fill="#4A0A0C" stroke="#240406" stroke-width="0.5"/>
<circle cx="324.8" cy="338.7" r="1.50" fill="#4A0A0C" stroke="#240406" stroke-width="0.5"/>
<circle cx="305.0" cy="342.8" r="1.50" fill="#4A0A0C" stroke="#240406" stroke-width="0.5"/>
<circle cx="331.3" cy="294.2" r="1.50" fill="#4A0A0C" stroke="#240406" stroke-width="0.5"/>
<circle cx="355.0" cy="294.0" r="1.50" fill="#4A0A0C" stroke="#240406" stroke-width="0.5"/>
<circle cx="338.8" cy="297.9" r="1.50" fill="#4A0A0C" stroke="#240406" stroke-width="0.5"/>
<circle cx="355.6" cy="298.8" r="1.50" fill="#4A0A0C" stroke="#240406" stroke-width="0.5"/>
<circle cx="374.4" cy="301.3" r="1.50" fill="#4A0A0C" stroke="#240406" stroke-width="0.5"/>
<circle cx="336.9" cy="308.0" r="1.50" fill="#4A0A0C" stroke="#240406" stroke-width="0.5"/>
<circle cx="345.2" cy="308.9" r="1.50" fill="#4A0A0C" stroke="#240406" stroke-width="0.5"/>
<circle cx="360.6" cy="310.1" r="1.50" fill="#4A0A0C" stroke="#240406" stroke-width="0.5"/>
<circle cx="337.3" cy="313.6" r="1.50" fill="#4A0A0C" stroke="#240406" stroke-width="0.5"/>
<circle cx="332.7" cy="315.8" r="1.50" fill="#4A0A0C" stroke="#240406" stroke-width="0.5"/>
<circle cx="341.2" cy="315.9" r="1.50" fill="#4A0A0C" stroke="#240406" stroke-width="0.5"/>
<circle cx="333.9" cy="321.1" r="1.50" fill="#4A0A0C" stroke="#240406" stroke-width="0.5"/>
<circle cx="338.8" cy="321.7" r="1.50" fill="#4A0A0C" stroke="#240406" stroke-width="0.5"/>
<circle cx="348.1" cy="320.4" r="1.50" fill="#4A0A0C" stroke="#240406" stroke-width="0.5"/>
<circle cx="358.9" cy="320.8" r="1.50" fill="#4A0A0C" stroke="#240406" stroke-width="0.5"/>
<circle cx="345.2" cy="325.4" r="1.50" fill="#4A0A0C" stroke="#240406" stroke-width="0.5"/>
<circle cx="353.7" cy="326.6" r="1.50" fill="#4A0A0C" stroke="#240406" stroke-width="0.5"/>
<circle cx="368.9" cy="324.5" r="1.50" fill="#4A0A0C" stroke="#240406" stroke-width="0.5"/>
<circle cx="333.6" cy="328.3" r="1.50" fill="#4A0A0C" stroke="#240406" stroke-width="0.5"/>
<circle cx="338.0" cy="328.3" r="1.50" fill="#4A0A0C" stroke="#240406" stroke-width="0.5"/>
<circle cx="345.8" cy="330.0" r="1.50" fill="#4A0A0C" stroke="#240406" stroke-width="0.5"/>
<circle cx="331.9" cy="333.3" r="1.50" fill="#4A0A0C" stroke="#240406" stroke-width="0.5"/>
<circle cx="340.0" cy="333.5" r="1.50" fill="#4A0A0C" stroke="#240406" stroke-width="0.5"/>
<circle cx="336.2" cy="336.4" r="1.50" fill="#4A0A0C" stroke="#240406" stroke-width="0.5"/>
<circle cx="348.1" cy="335.5" r="1.50" fill="#4A0A0C" stroke="#240406" stroke-width="0.5"/>
<circle cx="359.7" cy="337.0" r="1.50" fill="#4A0A0C" stroke="#240406" stroke-width="0.5"/>
<circle cx="343.5" cy="340.7" r="1.50" fill="#4A0A0C" stroke="#240406" stroke-width="0.5"/>
<circle cx="329.2" cy="345.9" r="1.50" fill="#4A0A0C" stroke="#240406" stroke-width="0.5"/>
<circle cx="296.9" cy="350.0" r="1.50" fill="#4A0A0C" stroke="#240406" stroke-width="0.5"/>
<circle cx="316.9" cy="348.5" r="1.50" fill="#4A0A0C" stroke="#240406" stroke-width="0.5"/>
<circle cx="307.0" cy="356.0" r="1.50" fill="#4A0A0C" stroke="#240406" stroke-width="0.5"/>
<circle cx="322.9" cy="359.3" r="1.50" fill="#4A0A0C" stroke="#240406" stroke-width="0.5"/>
<circle cx="294.5" cy="367.4" r="1.50" fill="#4A0A0C" stroke="#240406" stroke-width="0.5"/>
<circle cx="314.6" cy="369.0" r="1.50" fill="#4A0A0C" stroke="#240406" stroke-width="0.5"/>
<circle cx="335.9" cy="344.5" r="1.50" fill="#4A0A0C" stroke="#240406" stroke-width="0.5"/>
<circle cx="343.1" cy="348.8" r="1.50" fill="#4A0A0C" stroke="#240406" stroke-width="0.5"/>
<circle cx="352.1" cy="347.4" r="1.50" fill="#4A0A0C" stroke="#240406" stroke-width="0.5"/>
<circle cx="362.6" cy="349.1" r="1.50" fill="#4A0A0C" stroke="#240406" stroke-width="0.5"/>
<circle cx="334.8" cy="357.0" r="1.50" fill="#4A0A0C" stroke="#240406" stroke-width="0.5"/>
<circle cx="349.5" cy="359.3" r="1.50" fill="#4A0A0C" stroke="#240406" stroke-width="0.5"/>
<circle cx="333.6" cy="370.5" r="1.50" fill="#4A0A0C" stroke="#240406" stroke-width="0.5"/>
<circle cx="355.0" cy="371.7" r="1.50" fill="#4A0A0C" stroke="#240406" stroke-width="0.5"/>
<circle cx="378.4" cy="380.4" r="1.50" fill="#4A0A0C" stroke="#240406" stroke-width="0.5"/>
<circle cx="349.3" cy="315.2" r="2.80" fill="#1ED41E" stroke="#13b013" stroke-width="0.6"/><circle cx="349.3" cy="315.2" r="0.85" fill="#0a4d0a"/>
</g>
<path d="M282.4,390.4 V294.2 H379.6 M282.4,390.4 H379.6" fill="none" stroke="#5a3a2a" stroke-width="1"/>
<text x="328.6" y="281.9" class="sf" font-size="9.7" text-anchor="middle">Region A</text>
<path d="M220.3,304.6 C220.3,335 235,347 268.5,347" fill="none" stroke="#000" stroke-width="2.8"/>
<polygon points="275,346.9 268.3,343.4 268.3,350.4" fill="#000"/>
<text x="342.2" y="59.2" font-size="16.1" text-anchor="middle" stroke="#000" stroke-width="0.25" transform="translate(342.3 0) scale(0.93 1) translate(-342.3 0)">N</text>
<polygon points="342,63.5 330.7,102.3 342,88.3" fill="#000" stroke="#000" stroke-width="1" stroke-linejoin="miter"/>
<polygon points="342,63.5 354.1,102.3 342,88.3" fill="#fff" stroke="#000" stroke-width="1.1" stroke-linejoin="miter"/>
<text x="30.2" y="295.8" class="sf" font-size="10.4">Legend</text>
<rect x="29.8" y="306.6" width="16.8" height="7.7" fill="#F2A062"/>
<text x="50.2" y="313.9" class="sf" font-size="9.8">Prohibited Area</text>
<text x="50.2" y="331.5" class="sf" font-size="9.8">Automatic Weather Station</text>
<text x="50.2" y="349.3" class="sf" font-size="9.8">Artificial specified WSN Nodes</text>
<text x="50.2" y="366.8" class="sf" font-size="9.8">Optimized WSN Nodes</text>
<circle cx="38.3" cy="327.9" r="2.80" fill="#1ED41E" stroke="#13b013" stroke-width="0.6"/><circle cx="38.3" cy="327.9" r="0.85" fill="#0a4d0a"/>
<polygon points="38.2,342.2 40.0,345.4 38.2,348.6 36.4,345.4" fill="#22c422" stroke="#0E8A0E" stroke-width="0.7"/>
<circle cx="38.4" cy="363" r="2.35" fill="#6a0c12"/>
<text x="32.6" y="378.7" font-size="8.6" text-anchor="middle">0</text>
<text x="56.8" y="378.7" font-size="8.6" text-anchor="middle">.5</text>
<text x="80.5" y="378.7" font-size="8.6" text-anchor="middle">1</text>
<text x="128.8" y="378.7" font-size="8.6" text-anchor="middle">2</text>
<text x="176.7" y="378.7" font-size="8.6" text-anchor="middle">3</text>
<text x="224.8" y="378.7" font-size="8.6" text-anchor="middle">4</text>
<rect x="32.2" y="382.6" width="13.0" height="3" fill="#000" stroke="#000" stroke-width="0.8"/>
<rect x="45.2" y="382.6" width="11.6" height="3" fill="#fff" stroke="#000" stroke-width="0.8"/>
<rect x="56.8" y="382.6" width="12.2" height="3" fill="#000" stroke="#000" stroke-width="0.8"/>
<rect x="69.0" y="382.6" width="11.9" height="3" fill="#fff" stroke="#000" stroke-width="0.8"/>
<rect x="80.9" y="382.6" width="48.4" height="3" fill="#000" stroke="#000" stroke-width="0.8"/>
<rect x="129.3" y="382.6" width="47.8" height="3" fill="#fff" stroke="#000" stroke-width="0.8"/>
<rect x="177.1" y="382.6" width="48.9" height="3" fill="#000" stroke="#000" stroke-width="0.8"/>
<text x="227.1" y="385.8" font-size="9.3">Kilometers</text>
<rect x="19.6" y="32.5" width="360" height="358.5" fill="none" stroke="#333" stroke-width="1.2"/>
<rect x="7" y="7" width="700" height="417.7" fill="none" stroke="#2e2e2e" stroke-width="1.9"/>
<text x="0" y="0" font-size="18" text-anchor="middle" transform="translate(199.6 26.8) scale(0.82 1)">a</text>
<text x="593.6" y="26.8" font-size="17.6" text-anchor="middle">b</text>
<line x1="540.5" y1="32.2" x2="540.5" y2="391.2" stroke="#000" stroke-opacity="0.72" stroke-width="0.8" stroke-dasharray="1 3"/>
<line x1="588.4" y1="32.2" x2="588.4" y2="391.2" stroke="#000" stroke-opacity="0.72" stroke-width="0.8" stroke-dasharray="1 3"/>
<line x1="636.3" y1="32.2" x2="636.3" y2="391.2" stroke="#000" stroke-opacity="0.72" stroke-width="0.8" stroke-dasharray="1 3"/>
<line x1="684.2" y1="32.2" x2="684.2" y2="391.2" stroke="#000" stroke-opacity="0.72" stroke-width="0.8" stroke-dasharray="1 3"/>
<line x1="492.6" y1="43.4" x2="693.8" y2="43.4" stroke="#000" stroke-opacity="0.72" stroke-width="0.8" stroke-dasharray="1 3"/>
<line x1="492.6" y1="65.9" x2="693.8" y2="65.9" stroke="#000" stroke-opacity="0.72" stroke-width="0.8" stroke-dasharray="1 3"/>
<line x1="492.6" y1="88.3" x2="693.8" y2="88.3" stroke="#000" stroke-opacity="0.72" stroke-width="0.8" stroke-dasharray="1 3"/>
<line x1="492.6" y1="110.7" x2="693.8" y2="110.7" stroke="#000" stroke-opacity="0.72" stroke-width="0.8" stroke-dasharray="1 3"/>
<line x1="492.6" y1="133.2" x2="693.8" y2="133.2" stroke="#000" stroke-opacity="0.72" stroke-width="0.8" stroke-dasharray="1 3"/>
<line x1="492.6" y1="155.6" x2="693.8" y2="155.6" stroke="#000" stroke-opacity="0.72" stroke-width="0.8" stroke-dasharray="1 3"/>
<line x1="492.6" y1="178.0" x2="693.8" y2="178.0" stroke="#000" stroke-opacity="0.72" stroke-width="0.8" stroke-dasharray="1 3"/>
<line x1="492.6" y1="200.5" x2="693.8" y2="200.5" stroke="#000" stroke-opacity="0.72" stroke-width="0.8" stroke-dasharray="1 3"/>
<line x1="492.6" y1="222.9" x2="693.8" y2="222.9" stroke="#000" stroke-opacity="0.72" stroke-width="0.8" stroke-dasharray="1 3"/>
<line x1="492.6" y1="245.4" x2="693.8" y2="245.4" stroke="#000" stroke-opacity="0.72" stroke-width="0.8" stroke-dasharray="1 3"/>
<line x1="492.6" y1="267.8" x2="693.8" y2="267.8" stroke="#000" stroke-opacity="0.72" stroke-width="0.8" stroke-dasharray="1 3"/>
<line x1="492.6" y1="290.2" x2="693.8" y2="290.2" stroke="#000" stroke-opacity="0.72" stroke-width="0.8" stroke-dasharray="1 3"/>
<line x1="492.6" y1="312.7" x2="693.8" y2="312.7" stroke="#000" stroke-opacity="0.72" stroke-width="0.8" stroke-dasharray="1 3"/>
<line x1="492.6" y1="335.1" x2="693.8" y2="335.1" stroke="#000" stroke-opacity="0.72" stroke-width="0.8" stroke-dasharray="1 3"/>
<line x1="492.6" y1="357.5" x2="693.8" y2="357.5" stroke="#000" stroke-opacity="0.72" stroke-width="0.8" stroke-dasharray="1 3"/>
<line x1="492.6" y1="380.0" x2="693.8" y2="380.0" stroke="#000" stroke-opacity="0.72" stroke-width="0.8" stroke-dasharray="1 3"/>
<rect x="492.6" y="35.6" width="176.3" height="15.7" fill="#0000ff" stroke="#000" stroke-width="0.8"/>
<rect x="492.6" y="58.0" width="161.0" height="15.7" fill="#0000ff" stroke="#000" stroke-width="0.8"/>
<rect x="492.6" y="80.4" width="153.3" height="15.7" fill="#0000ff" stroke="#000" stroke-width="0.8"/>
<rect x="492.6" y="102.9" width="150.4" height="15.7" fill="#0000ff" stroke="#000" stroke-width="0.8"/>
<rect x="492.6" y="125.3" width="150.4" height="15.7" fill="#0000ff" stroke="#000" stroke-width="0.8"/>
<rect x="492.6" y="147.8" width="168.6" height="15.7" fill="#0000ff" stroke="#000" stroke-width="0.8"/>
<rect x="492.6" y="170.2" width="181.1" height="15.7" fill="#0000ff" stroke="#000" stroke-width="0.8"/>
<rect x="492.6" y="192.6" width="193.5" height="15.7" fill="#0000ff" stroke="#000" stroke-width="0.8"/>
<rect x="492.6" y="215.1" width="197.4" height="15.7" fill="#0000ff" stroke="#000" stroke-width="0.8"/>
<rect x="492.6" y="237.5" width="189.7" height="15.7" fill="#0000ff" stroke="#000" stroke-width="0.8"/>
<rect x="492.6" y="259.9" width="179.2" height="15.7" fill="#0000ff" stroke="#000" stroke-width="0.8"/>
<rect x="492.6" y="282.4" width="162.9" height="15.7" fill="#0000ff" stroke="#000" stroke-width="0.8"/>
<rect x="492.6" y="304.8" width="143.7" height="15.7" fill="#0000ff" stroke="#000" stroke-width="0.8"/>
<rect x="492.6" y="327.3" width="129.3" height="15.7" fill="#0000ff" stroke="#000" stroke-width="0.8"/>
<rect x="492.6" y="349.7" width="99.6" height="15.7" fill="#0000ff" stroke="#000" stroke-width="0.8"/>
<rect x="492.6" y="372.1" width="71.9" height="15.7" fill="#0000ff" stroke="#000" stroke-width="0.8"/>
<line x1="540.5" y1="32.2" x2="540.5" y2="391.2" stroke="#000" stroke-opacity="0.22" stroke-width="0.8" stroke-dasharray="1 3"/>
<line x1="588.4" y1="32.2" x2="588.4" y2="391.2" stroke="#000" stroke-opacity="0.22" stroke-width="0.8" stroke-dasharray="1 3"/>
<line x1="636.3" y1="32.2" x2="636.3" y2="391.2" stroke="#000" stroke-opacity="0.22" stroke-width="0.8" stroke-dasharray="1 3"/>
<line x1="684.2" y1="32.2" x2="684.2" y2="391.2" stroke="#000" stroke-opacity="0.22" stroke-width="0.8" stroke-dasharray="1 3"/>
<line x1="492.6" y1="43.4" x2="693.8" y2="43.4" stroke="#000" stroke-opacity="0.22" stroke-width="0.8" stroke-dasharray="1 3"/>
<line x1="492.6" y1="65.9" x2="693.8" y2="65.9" stroke="#000" stroke-opacity="0.22" stroke-width="0.8" stroke-dasharray="1 3"/>
<line x1="492.6" y1="88.3" x2="693.8" y2="88.3" stroke="#000" stroke-opacity="0.22" stroke-width="0.8" stroke-dasharray="1 3"/>
<line x1="492.6" y1="110.7" x2="693.8" y2="110.7" stroke="#000" stroke-opacity="0.22" stroke-width="0.8" stroke-dasharray="1 3"/>
<line x1="492.6" y1="133.2" x2="693.8" y2="133.2" stroke="#000" stroke-opacity="0.22" stroke-width="0.8" stroke-dasharray="1 3"/>
<line x1="492.6" y1="155.6" x2="693.8" y2="155.6" stroke="#000" stroke-opacity="0.22" stroke-width="0.8" stroke-dasharray="1 3"/>
<line x1="492.6" y1="178.0" x2="693.8" y2="178.0" stroke="#000" stroke-opacity="0.22" stroke-width="0.8" stroke-dasharray="1 3"/>
<line x1="492.6" y1="200.5" x2="693.8" y2="200.5" stroke="#000" stroke-opacity="0.22" stroke-width="0.8" stroke-dasharray="1 3"/>
<line x1="492.6" y1="222.9" x2="693.8" y2="222.9" stroke="#000" stroke-opacity="0.22" stroke-width="0.8" stroke-dasharray="1 3"/>
<line x1="492.6" y1="245.4" x2="693.8" y2="245.4" stroke="#000" stroke-opacity="0.22" stroke-width="0.8" stroke-dasharray="1 3"/>
<line x1="492.6" y1="267.8" x2="693.8" y2="267.8" stroke="#000" stroke-opacity="0.22" stroke-width="0.8" stroke-dasharray="1 3"/>
<line x1="492.6" y1="290.2" x2="693.8" y2="290.2" stroke="#000" stroke-opacity="0.22" stroke-width="0.8" stroke-dasharray="1 3"/>
<line x1="492.6" y1="312.7" x2="693.8" y2="312.7" stroke="#000" stroke-opacity="0.22" stroke-width="0.8" stroke-dasharray="1 3"/>
<line x1="492.6" y1="335.1" x2="693.8" y2="335.1" stroke="#000" stroke-opacity="0.22" stroke-width="0.8" stroke-dasharray="1 3"/>
<line x1="492.6" y1="357.5" x2="693.8" y2="357.5" stroke="#000" stroke-opacity="0.22" stroke-width="0.8" stroke-dasharray="1 3"/>
<line x1="492.6" y1="380.0" x2="693.8" y2="380.0" stroke="#000" stroke-opacity="0.22" stroke-width="0.8" stroke-dasharray="1 3"/>
<text x="650.2" y="47.6" font-size="11.5" font-weight="bold" text-anchor="middle" textLength="24.5" lengthAdjust="spacingAndGlyphs">184</text>
<text x="488.8" y="48.1" font-size="13" text-anchor="end" textLength="51.0" lengthAdjust="spacingAndGlyphs">640-680</text>
<line x1="690.0" y1="43.4" x2="693.8" y2="43.4" stroke="#000" stroke-width="0.8"/>
<text x="634.9" y="70.0" font-size="11.5" font-weight="bold" text-anchor="middle" textLength="24.5" lengthAdjust="spacingAndGlyphs">168</text>
<text x="488.8" y="70.5" font-size="13" text-anchor="end" textLength="51.0" lengthAdjust="spacingAndGlyphs">600-640</text>
<line x1="690.0" y1="65.9" x2="693.8" y2="65.9" stroke="#000" stroke-width="0.8"/>
<text x="627.2" y="92.4" font-size="11.5" font-weight="bold" text-anchor="middle" textLength="24.5" lengthAdjust="spacingAndGlyphs">160</text>
<text x="488.8" y="92.9" font-size="13" text-anchor="end" textLength="51.0" lengthAdjust="spacingAndGlyphs">560-600</text>
<line x1="690.0" y1="88.3" x2="693.8" y2="88.3" stroke="#000" stroke-width="0.8"/>
<text x="624.3" y="114.9" font-size="11.5" font-weight="bold" text-anchor="middle" textLength="24.5" lengthAdjust="spacingAndGlyphs">157</text>
<text x="488.8" y="115.4" font-size="13" text-anchor="end" textLength="51.0" lengthAdjust="spacingAndGlyphs">520-560</text>
<line x1="690.0" y1="110.7" x2="693.8" y2="110.7" stroke="#000" stroke-width="0.8"/>
<text x="624.3" y="137.3" font-size="11.5" font-weight="bold" text-anchor="middle" textLength="24.5" lengthAdjust="spacingAndGlyphs">157</text>
<text x="488.8" y="137.8" font-size="13" text-anchor="end" textLength="51.0" lengthAdjust="spacingAndGlyphs">480-520</text>
<line x1="690.0" y1="133.2" x2="693.8" y2="133.2" stroke="#000" stroke-width="0.8"/>
<text x="642.5" y="159.8" font-size="11.5" font-weight="bold" text-anchor="middle" textLength="24.5" lengthAdjust="spacingAndGlyphs">176</text>
<text x="488.8" y="160.3" font-size="13" text-anchor="end" textLength="51.0" lengthAdjust="spacingAndGlyphs">440-480</text>
<line x1="690.0" y1="155.6" x2="693.8" y2="155.6" stroke="#000" stroke-width="0.8"/>
<text x="655.0" y="182.2" font-size="11.5" font-weight="bold" text-anchor="middle" textLength="24.5" lengthAdjust="spacingAndGlyphs">189</text>
<text x="488.8" y="182.7" font-size="13" text-anchor="end" textLength="51.0" lengthAdjust="spacingAndGlyphs">400-440</text>
<line x1="690.0" y1="178.0" x2="693.8" y2="178.0" stroke="#000" stroke-width="0.8"/>
<text x="667.4" y="204.6" font-size="11.5" font-weight="bold" text-anchor="middle" textLength="24.5" lengthAdjust="spacingAndGlyphs">202</text>
<text x="488.8" y="205.1" font-size="13" text-anchor="end" textLength="51.0" lengthAdjust="spacingAndGlyphs">360-400</text>
<line x1="690.0" y1="200.5" x2="693.8" y2="200.5" stroke="#000" stroke-width="0.8"/>
<text x="671.3" y="227.1" font-size="11.5" font-weight="bold" text-anchor="middle" textLength="24.5" lengthAdjust="spacingAndGlyphs">206</text>
<text x="488.8" y="227.6" font-size="13" text-anchor="end" textLength="51.0" lengthAdjust="spacingAndGlyphs">320-360</text>
<line x1="690.0" y1="222.9" x2="693.8" y2="222.9" stroke="#000" stroke-width="0.8"/>
<text x="663.6" y="249.5" font-size="11.5" font-weight="bold" text-anchor="middle" textLength="24.5" lengthAdjust="spacingAndGlyphs">198</text>
<text x="488.8" y="250.0" font-size="13" text-anchor="end" textLength="51.0" lengthAdjust="spacingAndGlyphs">280-320</text>
<line x1="690.0" y1="245.4" x2="693.8" y2="245.4" stroke="#000" stroke-width="0.8"/>
<text x="653.1" y="271.9" font-size="11.5" font-weight="bold" text-anchor="middle" textLength="24.5" lengthAdjust="spacingAndGlyphs">187</text>
<text x="488.8" y="272.4" font-size="13" text-anchor="end" textLength="51.0" lengthAdjust="spacingAndGlyphs">240-280</text>
<line x1="690.0" y1="267.8" x2="693.8" y2="267.8" stroke="#000" stroke-width="0.8"/>
<text x="636.8" y="294.4" font-size="11.5" font-weight="bold" text-anchor="middle" textLength="24.5" lengthAdjust="spacingAndGlyphs">170</text>
<text x="488.8" y="294.9" font-size="13" text-anchor="end" textLength="51.0" lengthAdjust="spacingAndGlyphs">200-240</text>
<line x1="690.0" y1="290.2" x2="693.8" y2="290.2" stroke="#000" stroke-width="0.8"/>
<text x="617.6" y="316.8" font-size="11.5" font-weight="bold" text-anchor="middle" textLength="24.5" lengthAdjust="spacingAndGlyphs">150</text>
<text x="488.8" y="317.3" font-size="13" text-anchor="end" textLength="51.0" lengthAdjust="spacingAndGlyphs">160-200</text>
<line x1="690.0" y1="312.7" x2="693.8" y2="312.7" stroke="#000" stroke-width="0.8"/>
<text x="603.2" y="339.3" font-size="11.5" font-weight="bold" text-anchor="middle" textLength="24.5" lengthAdjust="spacingAndGlyphs">135</text>
<text x="488.8" y="339.8" font-size="13" text-anchor="end" textLength="51.0" lengthAdjust="spacingAndGlyphs">120-160</text>
<line x1="690.0" y1="335.1" x2="693.8" y2="335.1" stroke="#000" stroke-width="0.8"/>
<text x="573.5" y="361.7" font-size="11.5" font-weight="bold" text-anchor="middle" textLength="24.5" lengthAdjust="spacingAndGlyphs">104</text>
<text x="488.8" y="362.2" font-size="13" text-anchor="end" textLength="42.8" lengthAdjust="spacingAndGlyphs">80-120</text>
<line x1="690.0" y1="357.5" x2="693.8" y2="357.5" stroke="#000" stroke-width="0.8"/>
<text x="545.8" y="384.1" font-size="11.5" font-weight="bold" text-anchor="middle" textLength="16.3" lengthAdjust="spacingAndGlyphs">75</text>
<text x="488.8" y="384.6" font-size="13" text-anchor="end" textLength="35.3" lengthAdjust="spacingAndGlyphs">40-80</text>
<line x1="690.0" y1="380.0" x2="693.8" y2="380.0" stroke="#000" stroke-width="0.8"/>
<line x1="492.6" y1="391.2" x2="492.6" y2="387.4" stroke="#000" stroke-width="0.8"/>
<line x1="492.6" y1="32.2" x2="492.6" y2="36.0" stroke="#000" stroke-width="0.8"/>
<text x="492.6" y="405.2" font-size="12.6" text-anchor="middle" textLength="7.7" lengthAdjust="spacingAndGlyphs">0</text>
<line x1="540.5" y1="391.2" x2="540.5" y2="387.4" stroke="#000" stroke-width="0.8"/>
<line x1="540.5" y1="32.2" x2="540.5" y2="36.0" stroke="#000" stroke-width="0.8"/>
<text x="540.5" y="405.2" font-size="12.6" text-anchor="middle" textLength="15.3" lengthAdjust="spacingAndGlyphs">50</text>
<line x1="588.4" y1="391.2" x2="588.4" y2="387.4" stroke="#000" stroke-width="0.8"/>
<line x1="588.4" y1="32.2" x2="588.4" y2="36.0" stroke="#000" stroke-width="0.8"/>
<text x="588.4" y="405.2" font-size="12.6" text-anchor="middle" textLength="23.0" lengthAdjust="spacingAndGlyphs">100</text>
<line x1="636.3" y1="391.2" x2="636.3" y2="387.4" stroke="#000" stroke-width="0.8"/>
<line x1="636.3" y1="32.2" x2="636.3" y2="36.0" stroke="#000" stroke-width="0.8"/>
<text x="636.3" y="405.2" font-size="12.6" text-anchor="middle" textLength="23.0" lengthAdjust="spacingAndGlyphs">150</text>
<line x1="684.2" y1="391.2" x2="684.2" y2="387.4" stroke="#000" stroke-width="0.8"/>
<line x1="684.2" y1="32.2" x2="684.2" y2="36.0" stroke="#000" stroke-width="0.8"/>
<text x="684.2" y="405.2" font-size="12.6" text-anchor="middle" textLength="23.0" lengthAdjust="spacingAndGlyphs">200</text>
<rect x="492.6" y="32.2" width="201.2" height="359.0" fill="none" stroke="#000" stroke-width="1"/>
<text x="593.5" y="420.2" font-size="12.8" text-anchor="middle" textLength="148" lengthAdjust="spacingAndGlyphs">Number of Paired Points</text>
<text x="0" y="0" font-size="13.2" text-anchor="middle" textLength="83.6" lengthAdjust="spacingAndGlyphs" transform="translate(429.6 211.2) rotate(-90)">Lag Class (m)</text>
</svg></body></html>
